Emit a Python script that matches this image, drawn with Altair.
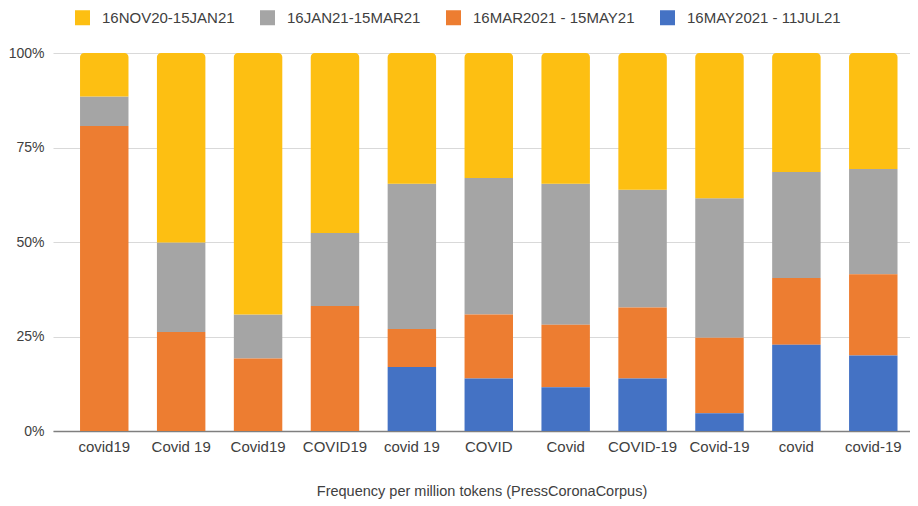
import altair as alt
import pandas as pd

terms = ["covid19", "Covid 19", "Covid19", "COVID19", "covid 19", "COVID",
         "Covid", "COVID-19", "Covid-19", "covid", "covid-19"]
periods = ["16NOV20-15JAN21", "16JAN21-15MAR21", "16MAR2021 - 15MAY21", "16MAY2021 - 11JUL21"]
colors = ["#FDBF12", "#A5A5A5", "#ED7D31", "#4472C4"]

# shares in percent per term
p_nov = [11.5, 50.1, 69.2, 47.6, 34.6, 33.1, 34.6, 36.2, 38.4, 31.5, 30.7]
p_jan = [7.8, 23.7, 11.6, 19.3, 38.4, 36.1, 37.3, 31.1, 36.9, 28.0, 27.8]
p_mar = [80.7, 26.2, 19.2, 33.1, 10.1, 16.9, 16.5, 18.8, 20.0, 17.7, 21.5]
p_may = [0.0, 0.0, 0.0, 0.0, 16.9, 13.9, 11.6, 13.9, 4.7, 22.8, 20.0]

series = [p_nov, p_jan, p_mar, p_may]
stack_order = [3, 2, 1, 0]  # bottom = last period

rows = []
for i, t in enumerate(terms):
    for p, vals, o in zip(periods, series, stack_order):
        rows.append({"term": t, "period": p, "value": vals[i] / 100.0, "ord": o})
df = pd.DataFrame(rows)

FONT = "Liberation Sans"
TXT = "#404040"

x_enc = alt.X("term:N", sort=terms,
              scale=alt.Scale(paddingInner=0.37, paddingOuter=0.257, align=0.684),
              axis=alt.Axis(labelAngle=0, ticks=False, labelPadding=8, labelFontSize=15,
                            domainColor="#7F7F7F", domainWidth=1.5, grid=False,
                            titleFontSize=14.5, titleFontWeight="normal", titlePadding=30,
                            titleColor=TXT),
              title="Frequency per million tokens (PressCoronaCorpus)")
y_enc = alt.Y("y0:Q", scale=alt.Scale(domain=[0, 1], nice=False),
              axis=alt.Axis(values=[0, 0.25, 0.5, 0.75, 1], format=".0%", ticks=False,
                            domain=False, labelPadding=9, labelFontSize=14,
                            gridColor="#D9D9D9", gridWidth=1),
              title=None)
color_enc = alt.Color("period:N",
                      scale=alt.Scale(domain=periods, range=colors),
                      legend=alt.Legend(orient="none", legendX=22, legendY=-43,
                                        direction="horizontal", title=None,
                                        symbolType="square", symbolSize=225,
                                        symbolStrokeWidth=0, labelFontSize=15,
                                        labelOffset=12, columnPadding=25, padding=0,
                                        labelLimit=0,
                                        labelColor=TXT, labelFont=FONT))

base = alt.Chart().encode(x=x_enc, y=y_enc, y2="y1:Q", color=color_enc)

lower = base.transform_filter(alt.datum.period != periods[0]).mark_bar()
upper = base.transform_filter(alt.datum.period == periods[0]).mark_bar(
    cornerRadiusTopLeft=4, cornerRadiusTopRight=4)

chart = alt.layer(lower, upper, data=df).transform_stack(
    stack="value", groupby=["term"], as_=["y0", "y1"],
    sort=[alt.SortField("ord", order="ascending")]
).properties(
    width=857, height=378,
    autosize=alt.AutoSizeParams(type="none"),
    padding={"left": 45, "top": 45, "right": 0, "bottom": 71},
).configure_axis(
    labelFont=FONT, titleFont=FONT, labelColor=TXT
).configure_view(stroke=None)

chart.save("out.html", embed_options={"renderer": "svg", "actions": False})
